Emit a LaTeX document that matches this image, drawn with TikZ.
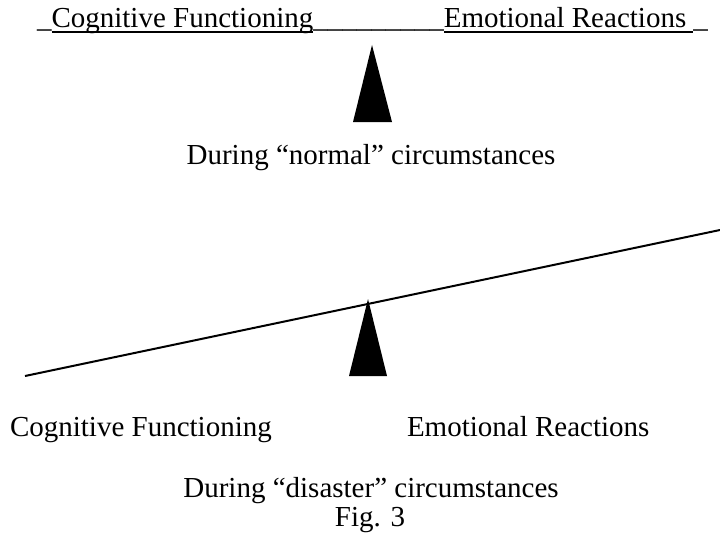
\documentclass[tikz,border=0pt]{standalone}
\usepackage{fontspec}
\setmainfont{Liberation Serif}
\begin{document}
\begin{tikzpicture}[x=1pt,y=-1pt,
  txt/.style={inner sep=0pt, outer sep=0pt, font=\fontsize{29}{35}\selectfont},
  ul/.style={line width=1.6pt},
  beam/.style={line width=2pt},
  fulcrum/.style={fill=black, draw=none}]
\useasboundingbox (0,0) rectangle (720,535);
% top line
\node[txt, anchor=base west] (u1) at (37,28) {\_};
\node[txt, anchor=base west] (cf) at (u1.base east) {Cognitive Functioning};
\node[txt, anchor=base west] (u2) at (cf.base east) {\_\_\_\_\_\_\_\_\_};
\node[txt, anchor=base west] (er) at (u2.base east) {Emotional Reactions\hspace*{0.25em}};
\node[txt, anchor=base west] (u3) at (er.base east) {\_};
\draw[ul] ([yshift=-4pt]cf.base west) -- ([yshift=-4pt]cf.base east);
\draw[ul] ([yshift=-4pt]er.base west) -- ([yshift=-4pt]er.base east);
% top fulcrum
\coordinate (t1) at (372,45);
\coordinate (t2) at (353,122);
\coordinate (t3) at (392,122);
\fill[fulcrum] (t1) -- (t2) -- (t3) -- cycle;
\node[txt, anchor=base] (normal) at (371,164) {During “normal” circumstances};
% lower beam and fulcrum
\coordinate (bl) at (25,376);
\coordinate (br) at (720,230);
\draw[beam] (bl) -- (br);
\coordinate (b1) at (368,299);
\coordinate (b2) at (349,376);
\coordinate (b3) at (387,376);
\fill[fulcrum] (b1) -- (b2) -- (b3) -- cycle;
\node[txt, anchor=base west] (cf2) at (10,436) {Cognitive Functioning};
\node[txt, anchor=base west] (er2) at (407,436) {Emotional Reactions};
\node[txt, anchor=base] (disaster) at (371,497) {During “disaster” circumstances};
\node[txt, anchor=base] (fig) at (370,526) {Fig. 3};
\end{tikzpicture}
\end{document}
